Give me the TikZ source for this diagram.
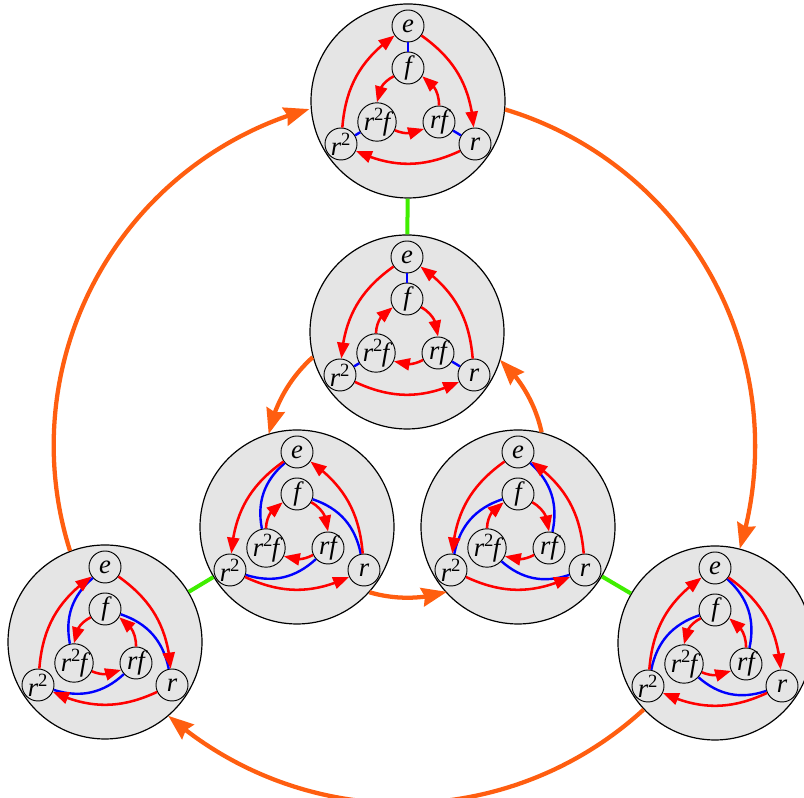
\documentclass[tikz,border=0pt]{standalone}
\usepackage{fontspec}
\setmainfont{Liberation Serif}
\usetikzlibrary{arrows.meta,bending}
\definecolor{orng}{RGB}{255,94,16}
\definecolor{grn}{RGB}{64,238,0}
\definecolor{cfill}{RGB}{229,229,229}
\tikzset{
  big/.style={circle, draw=black, line width=0.9pt, fill=cfill, minimum size=145.5pt, inner sep=0pt},
  elem/.style={circle, draw=black, line width=0.7pt, fill=cfill, minimum size=24pt, inner sep=0pt, font=\fontsize{20}{20}\selectfont\itshape},
  redarr/.style={draw=red, line width=1.9pt, -{Triangle[length=12pt,width=9pt]}},
  blueln/.style={draw=blue, line width=1.8pt},
  bigarr/.style={draw=orng, line width=3.2pt, -{Stealth[length=19pt,width=14pt,inset=2pt]}},
  grnln/.style={draw=grn, line width=3pt},
}
\newcommand\rsq{r\textsuperscript{\upshape 2}}
\newcommand\grp[3]{%
  \node[big] (#1) at (#2,#3) {};
  \begin{scope}[shift={(#2,#3)}]
    \node[elem] (#1e) at (0,75) {e};
    \node[elem] (#1f) at (0,33) {f};
    \node[elem] (#1q) at (-31,-21) {\rsq\kern-1pt f};
    \node[elem] (#1p) at (31,-21) {rf};
    \node[elem] (#1s) at (-67,-43) {\rsq};
    \node[elem] (#1r) at (67,-43) {r};
  \end{scope}}
\newcommand\redA[1]{%
  \draw[redarr] (#1e) to[bend left=25] (#1r);
  \draw[redarr] (#1r) to[bend left=25] (#1s);
  \draw[redarr] (#1s) to[bend left=25] (#1e);
  \draw[redarr] (#1f) to[bend right=30] (#1q);
  \draw[redarr] (#1q) to[bend right=25] (#1p);
  \draw[redarr] (#1p) to[bend right=30] (#1f);}
\newcommand\redB[1]{%
  \draw[redarr] (#1e) to[bend right=25] (#1s);
  \draw[redarr] (#1s) to[bend right=25] (#1r);
  \draw[redarr] (#1r) to[bend right=25] (#1e);
  \draw[redarr] (#1q) to[bend left=30] (#1f);
  \draw[redarr] (#1f) to[bend left=30] (#1p);
  \draw[redarr] (#1p) to[bend left=25] (#1q);}
\newcommand\blueS[1]{%
  \draw[blueln] (#1e) -- (#1f);
  \draw[blueln] (#1s) -- (#1q);
  \draw[blueln] (#1r) -- (#1p);}
\newcommand\blueL[1]{%
  \draw[blueln] (#1e) to[bend right=30] (#1q);
  \draw[blueln] (#1f) to[bend left=30] (#1r);
  \draw[blueln] (#1p) to[bend left=30] (#1s);}
\newcommand\blueR[1]{%
  \draw[blueln] (#1e) to[bend left=30] (#1p);
  \draw[blueln] (#1f) to[bend right=30] (#1s);
  \draw[blueln] (#1q) to[bend right=30] (#1r);}
\begin{document}
\begin{tikzpicture}[x=0.75pt,y=0.75pt]
\path[use as bounding box, fill=white] (0,0) rectangle (804,798);
% groups
\grp{T}{408}{697}
\grp{M}{407}{466}
\grp{L}{297}{271}
\grp{R}{518}{271}
\grp{A}{105}{156}
\grp{B}{715}{155}
% green links
\draw[grnln] (T) -- (M);
\draw[grnln] (L) -- (A);
\draw[grnln] (R) -- (B);
% inner edges
\blueS{T} \redA{T}
\blueS{M} \redB{M}
\blueL{L} \redB{L}
\blueR{R} \redB{R}
\blueL{A} \redA{A}
\blueR{B} \redA{B}
% orange arrows
\draw[bigarr] (T.-5) arc[start angle=73.2, end angle=-17, radius=351.5];
\draw[bigarr] (B.-137) arc[start angle=-47.5, end angle=-131, radius=357];
\draw[bigarr] (A.111) arc[start angle=197.6, end angle=105.5, radius=349];
\draw[bigarr] (M.195) arc[start angle=131.8, end angle=168.5, radius=140.7];
\draw[bigarr] (L.-42) arc[start angle=253.7, end angle=287, radius=135.3];
\draw[bigarr] (R.76) arc[start angle=12.2, end angle=47.6, radius=137.6];
\end{tikzpicture}
\end{document}
